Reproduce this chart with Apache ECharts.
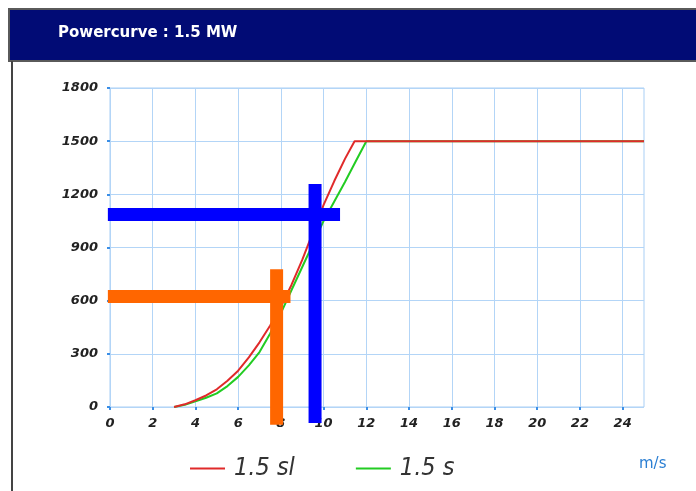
<!DOCTYPE html>
<html>
<head>
<meta charset="utf-8">
<script src="https://cdn.jsdelivr.net/npm/echarts@6/dist/echarts.min.js"></script>
<style>
html,body{margin:0;padding:0;background:#fff;}
#chart{width:696px;height:491px;}
</style>
</head>
<body>
<div id="chart"></div>
<script>
// Wind speed (m/s) and power (kW)
const slSpeed = [3, 3.5, 4, 4.5, 5, 5.5, 6, 6.5, 7, 7.5, 8, 8.5, 9, 9.5, 10, 10.5, 11, 11.45, 25];
const slPower = [0, 15, 38, 65, 100, 148, 205, 280, 365, 460, 565, 690, 830, 985, 1140, 1275, 1400, 1500, 1500];
const sSpeed  = [3, 3.5, 4, 4.5, 5, 5.5, 6, 6.5, 7, 7.5, 8, 8.5, 9, 9.5, 10, 10.5, 11, 11.5, 12, 25];
const sPower  = [0, 12, 32, 52, 77, 118, 170, 235, 310, 415, 530, 660, 790, 920, 1050, 1160, 1270, 1385, 1500, 1500];

const seriesNames = ['1.5 sl', '1.5 s'];
const xTickLabels = [0, 2, 4, 6, 8, 10, 12, 14, 16, 18, 20, 22, 24];
const yTickLabels = [0, 300, 600, 900, 1200, 1500, 1800];

// Reading marker bars (wind speed, power)
const orangeH = [[-0.1, 624], [8.45, 624]];
const orangeV = [[7.8, 777], [7.8, -100]];
const blueH   = [[-0.1, 1086], [10.77, 1086]];
const blueV   = [[9.6, 1258], [9.6, -90]];

const titleText = 'Powercurve : 1.5 MW';
const unitText = 'm/s';

function zip(xs, ys) { return xs.map((x, i) => [x, ys[i]]); }

const chart = echarts.init(document.getElementById('chart'), null, {renderer: 'canvas'});

const labelFont = {
  fontFamily: 'DejaVu Sans', fontWeight: 'bold', fontStyle: 'italic',
  fontSize: 13, color: '#222'
};

function bar(data, color) {
  return {
    type: 'line', data: data, showSymbol: false, symbol: 'none', silent: true,
    clip: false, z: 5,
    lineStyle: {color: color, width: 13, cap: 'butt'},
    legendHoverLink: false
  };
}

chart.setOption({
  animation: false,
  backgroundColor: '#fff',
  title: {
    text: titleText, left: 53, top: 21, z: 10,
    textStyle: {color: '#fff', fontFamily: 'DejaVu Sans', fontWeight: 'bold', fontSize: 15}
  },
  graphic: [
    {type: 'rect', z: 1, shape: {x: 9, y: 9, width: 690, height: 52},
     style: {fill: '#010b75', stroke: '#5a5a5a', lineWidth: 2}},
    {type: 'line', z: 1, shape: {x1: 12, y1: 61, x2: 12, y2: 491},
     style: {stroke: '#444', lineWidth: 2}},
    {type: 'text', z: 10, left: 639, top: 457,
     style: {text: unitText, fill: '#2b7fd3', font: '15px "DejaVu Sans"'}}
  ],
  legend: {
    left: 185, top: 451,
    data: seriesNames.map(n => ({name: n, icon: 'rect'})),
    itemWidth: 35, itemHeight: 2, itemGap: 61,
    textStyle: {
      fontFamily: "'Liberation Sans Narrow', 'DejaVu Sans Condensed', sans-serif",
      fontStyle: 'italic', fontSize: 25, color: '#333', padding: [0, 0, 0, 4]
    }
  },
  grid: {
    left: 110, right: 52, top: 88, bottom: 84,
    show: true, borderColor: '#a9cff5', borderWidth: 1
  },
  xAxis: {
    type: 'value', min: 0, max: 25, interval: 1,
    axisLine: {show: false},
    axisTick: {show: true, customValues: xTickLabels, length: 3, inside: false,
               lineStyle: {color: '#3a8ee6', width: 2}},
    axisLabel: Object.assign({customValues: xTickLabels, margin: 10,
      formatter: v => (v % 2 === 0 ? String(v) : '')}, labelFont),
    splitLine: {show: true, lineStyle: {color: '#b3d5f7', width: 1}}
  },
  yAxis: {
    type: 'value', min: 0, max: 1800, interval: 300,
    axisLine: {show: false},
    axisTick: {show: true, length: 3, lineStyle: {color: '#3a8ee6', width: 2}},
    axisLabel: Object.assign({margin: 12, customValues: yTickLabels,
      formatter: v => String(v)}, labelFont),
    splitLine: {show: true, lineStyle: {color: '#b3d5f7', width: 1}}
  },
  series: [
    {
      name: seriesNames[1], type: 'line', data: zip(sSpeed, sPower),
      showSymbol: false, symbol: 'none', smooth: false,
      itemStyle: {color: '#22cc22'}, lineStyle: {color: '#22cc22', width: 2}, z: 3
    },
    {
      name: seriesNames[0], type: 'line', data: zip(slSpeed, slPower),
      showSymbol: false, symbol: 'none', smooth: false,
      itemStyle: {color: '#e02a2a'}, lineStyle: {color: '#e02a2a', width: 2}, z: 4
    },
    bar(orangeH, '#ff6600'),
    bar(orangeV, '#ff6600'),
    bar(blueH, '#0000ff'),
    bar(blueV, '#0000ff')
  ]
});
</script>
</body>
</html>
